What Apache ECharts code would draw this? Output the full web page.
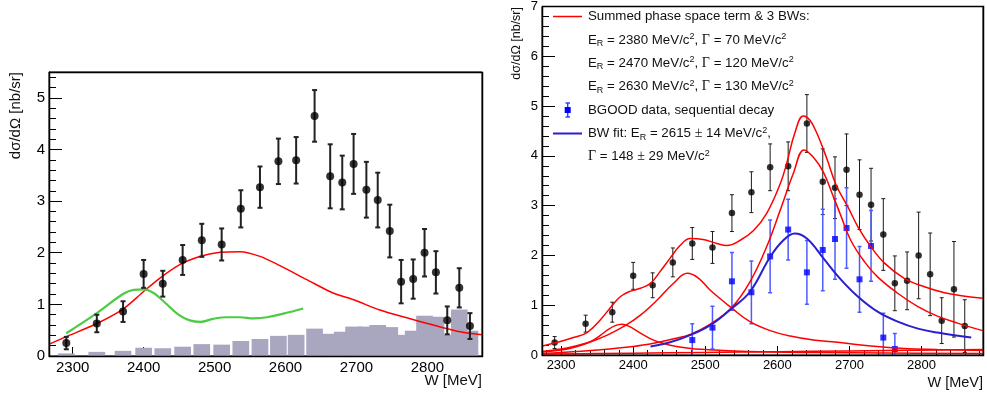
<!DOCTYPE html>
<html>
<head>
<meta charset="utf-8">
<script src="https://cdn.jsdelivr.net/npm/echarts@6/dist/echarts.min.js"></script>
<style>
  html, body { margin: 0; padding: 0; background: #fff; }
  #chart { width: 987px; height: 394px; }
</style>
</head>
<body>
<div id="chart"></div>
<script>
// W [MeV] of the measured points (same bins in both panels)
const W = [2291, 2334, 2371, 2400, 2427, 2455, 2482, 2510, 2537, 2564, 2590, 2615, 2641,
           2663, 2680, 2696, 2714, 2730, 2747, 2763, 2780, 2796, 2812, 2828, 2845, 2860];
// dsigma/dOmega [nb/sr]
const xsec = [0.25, 0.63, 0.86, 1.59, 1.40, 1.86, 2.24, 2.16, 2.85, 3.27, 3.77, 3.79, 4.65,
              3.48, 3.36, 3.72, 3.22, 3.02, 2.42, 1.44, 1.49, 2.00, 1.62, 0.69, 1.32, 0.58];
// statistical errors (left) and total errors (right)
const errStat = [0.12, 0.17, 0.20, 0.27, 0.25, 0.29, 0.32, 0.31, 0.36, 0.40, 0.44, 0.45, 0.50,
                 0.62, 0.52, 0.58, 0.54, 0.53, 0.51, 0.42, 0.38, 0.46, 0.41, 0.27, 0.38, 0.25];
const errTot = [0.12, 0.17, 0.20, 0.27, 0.25, 0.29, 0.32, 0.32, 0.37, 0.41, 0.47, 0.49, 0.58,
                0.66, 0.62, 0.72, 0.70, 0.73, 0.72, 0.55, 0.58, 0.87, 0.83, 0.46, 0.96, 0.53];
// systematic band (histogram) on the left panel
const sysBand = [0.05, 0.08, 0.10, 0.16, 0.15, 0.18, 0.23, 0.22, 0.29, 0.33, 0.39, 0.41, 0.53,
                 0.43, 0.47, 0.57, 0.57, 0.60, 0.56, 0.41, 0.49, 0.78, 0.76, 0.41, 0.90, 0.49];

// sequential decay points (right panel)
const seqW = [2482, 2510, 2537, 2564, 2590, 2615, 2641, 2663, 2680, 2696, 2714, 2730, 2747, 2763];
const seqY = [0.30, 0.55, 1.48, 1.26, 1.98, 2.52, 1.66, 2.11, 2.33, 2.55, 1.52, 2.19, 0.35, 0.12];
const seqErr = [0.33, 0.43, 0.58, 0.63, 0.73, 0.61, 0.64, 0.82, 0.81, 0.81, 0.66, 0.71, 0.49, 0.31];

// left panel model curves [W, value]
const redLeft = [[2267, 0.23], [2291, 0.375], [2334, 0.63], [2371, 0.91], [2400, 1.25], [2423, 1.51],
  [2451, 1.77], [2480, 1.93], [2508, 2.01], [2536, 2.02], [2564, 1.93], [2592, 1.75], [2630, 1.48],
  [2667, 1.22], [2696, 1.09], [2733, 0.89], [2771, 0.74], [2800, 0.63], [2842, 0.48], [2877, 0.41]];
const greenLeft = [[2291, 0.44], [2334, 0.83], [2371, 1.20], [2386, 1.28], [2400, 1.29], [2414, 1.22],
  [2428, 1.06], [2449, 0.80], [2465, 0.69], [2480, 0.66], [2498, 0.72], [2517, 0.75], [2536, 0.75],
  [2555, 0.73], [2574, 0.75], [2597, 0.82], [2625, 0.92]];

// right panel fit curves [W, value]
const sumFit = [[2274, 0.18], [2299, 0.27], [2317, 0.35], [2336, 0.45], [2354, 0.70], [2370, 0.98],
  [2382, 1.17], [2394, 1.27], [2410, 1.34], [2424, 1.44], [2437, 1.67], [2451, 1.94], [2465, 2.20],
  [2479, 2.34], [2497, 2.32], [2516, 2.24], [2530, 2.20], [2548, 2.30], [2567, 2.50], [2585, 2.84],
  [2604, 3.44], [2613, 3.85], [2624, 4.45], [2636, 4.80], [2645, 4.72], [2655, 4.45], [2668, 3.97],
  [2682, 3.40], [2698, 2.97], [2712, 2.57], [2730, 2.17], [2749, 1.84], [2776, 1.54], [2804, 1.37],
  [2832, 1.25], [2860, 1.18], [2885, 1.14]];
const bw3 = [[2274, 0.03], [2300, 0.05], [2350, 0.10], [2400, 0.17], [2430, 0.24], [2455, 0.32],
  [2480, 0.42], [2507, 0.62], [2537, 0.96], [2562, 1.47], [2585, 2.17], [2604, 2.91], [2622, 3.64],
  [2637, 4.12], [2650, 3.97], [2664, 3.67], [2678, 3.17], [2687, 2.84], [2702, 2.30], [2721, 1.87],
  [2739, 1.57], [2767, 1.24], [2795, 0.97], [2822, 0.78], [2850, 0.64], [2885, 0.49]];
const bw2 = [[2274, 0.07], [2300, 0.12], [2317, 0.17], [2340, 0.26], [2364, 0.40], [2390, 0.60],
  [2410, 0.80], [2433, 1.10], [2456, 1.44], [2475, 1.64], [2490, 1.55], [2507, 1.30], [2537, 0.94],
  [2562, 0.67], [2590, 0.49], [2618, 0.38], [2650, 0.30], [2687, 0.25], [2730, 0.18], [2776, 0.13],
  [2822, 0.11], [2885, 0.09]];
const bw1 = [[2274, 0.06], [2300, 0.10], [2317, 0.15], [2340, 0.26], [2355, 0.40], [2364, 0.50],
  [2375, 0.59], [2384, 0.62], [2395, 0.57], [2410, 0.44], [2425, 0.32], [2440, 0.24], [2460, 0.17],
  [2480, 0.13], [2510, 0.10], [2560, 0.07], [2650, 0.05], [2750, 0.04], [2885, 0.03]];
const phaseSpace = [[2274, 0.02], [2350, 0.03], [2450, 0.045], [2550, 0.06], [2650, 0.075],
  [2750, 0.09], [2885, 0.11]];
const bwFit = [[2424, 0.17], [2450, 0.25], [2479, 0.40], [2507, 0.60], [2537, 0.94], [2562, 1.27],
  [2590, 1.97], [2608, 2.30], [2624, 2.44], [2641, 2.34], [2664, 1.94], [2686, 1.55], [2712, 1.17],
  [2739, 0.87], [2767, 0.67], [2795, 0.53], [2822, 0.45], [2869, 0.35]];

const FONT = 'Liberation Sans, Arial, sans-serif';
const xRange = [[2266.6, 2877], [2273.5, 2885.3]];
const yMax = [5.5, 7];
// pad boxes (pixels): left, top, width, height
const pads = [[49, 72, 433, 284], [542, 6, 441, 349]];

function errorBars(color, width, cap) {
  return function (params, api) {
    const x = api.value(0), y = api.value(1), e = api.value(2);
    const hi = api.coord([x, y + e]);
    const lo = api.coord([x, y - e]);
    const st = { stroke: color, lineWidth: width };
    return {
      type: 'group',
      children: [
        { type: 'line', shape: { x1: hi[0], y1: hi[1], x2: lo[0], y2: lo[1] }, style: st },
        { type: 'line', shape: { x1: hi[0] - cap, y1: hi[1], x2: hi[0] + cap, y2: hi[1] }, style: st },
        { type: 'line', shape: { x1: lo[0] - cap, y1: lo[1], x2: lo[0] + cap, y2: lo[1] }, style: st }
      ]
    };
  };
}

function xAxisCfg(idx, fs, minor) {
  return {
    gridIndex: idx, type: 'value', min: xRange[idx][0], max: xRange[idx][1], splitNumber: 6,
    axisLine: { onZero: false, lineStyle: { color: '#000', width: 1 } },
    axisTick: { inside: true, length: 9, lineStyle: { color: '#000' } },
    minorTick: { show: minor, splitNumber: 5, length: 5, lineStyle: { color: '#000' } },
    axisLabel: { showMinLabel: false, showMaxLabel: false, fontSize: fs, color: '#000',
                 fontFamily: FONT, margin: 4, formatter: v => String(v) },
    splitLine: { show: false }
  };
}
function yAxisCfg(idx, split, fs) {
  return {
    gridIndex: idx, type: 'value', min: 0, max: yMax[idx], splitNumber: split,
    axisLine: { onZero: false, lineStyle: { color: '#000', width: 1 } },
    axisTick: { inside: true, length: 13, lineStyle: { color: '#000' } },
    minorTick: { show: true, splitNumber: 5, length: 7, lineStyle: { color: '#000' } },
    axisLabel: { showMaxLabel: idx === 1, fontSize: fs, color: '#000', fontFamily: FONT, margin: 4,
                 formatter: v => String(v) },
    splitLine: { show: false }
  };
}
function padFrame(idx) {
  const p = pads[idx];
  return { type: 'rect', z: 100, silent: true,
           shape: { x: p[0] + 0.5, y: p[1] + 0.5, width: p[2], height: p[3] },
           style: { fill: null, stroke: '#000', lineWidth: 1.5 } };
}

const richStyle = {
  sub: { fontSize: 9, lineHeight: 8, verticalAlign: 'bottom', fontFamily: FONT },
  sup: { fontSize: 9, lineHeight: 8, verticalAlign: 'top', fontFamily: FONT },
  g: { fontSize: 14, fontFamily: 'Liberation Serif, serif' }
};
function legendText(y, text) {
  return {
    type: 'text', x: 588, y: y,
    style: { text: text, fontSize: 13.3, fontFamily: FONT, fill: '#111', lineHeight: 16,
             verticalAlign: 'middle', align: 'left', rich: richStyle }
  };
}

const chart = echarts.init(document.getElementById('chart'));
chart.setOption({
  animation: false,
  backgroundColor: '#fff',
  grid: pads.map(p => ({ left: p[0], top: p[1], width: p[2], height: p[3],
                         show: true, borderColor: '#000', borderWidth: 1, backgroundColor: 'transparent' })),
  xAxis: [xAxisCfg(0, 15, false), xAxisCfg(1, 13, true)],
  yAxis: [yAxisCfg(0, 5, 15), yAxisCfg(1, 7, 13)],
  graphic: [
    padFrame(0),
    padFrame(1),
    { type: 'text', x: 16, y: 72, rotation: Math.PI / 2,
      style: { text: 'dσ/dΩ [nb/sr]', fontSize: 15, fontFamily: FONT, fill: '#111', align: 'right', verticalAlign: 'middle' } },
    { type: 'text', x: 517, y: 7, rotation: Math.PI / 2,
      style: { text: 'dσ/dΩ [nb/sr]', fontSize: 12.5, fontFamily: FONT, fill: '#111', align: 'right', verticalAlign: 'middle' } },
    { type: 'text', x: 482, y: 381,
      style: { text: 'W [MeV]', fontSize: 15, fontFamily: FONT, fill: '#111', align: 'right', verticalAlign: 'middle' } },
    { type: 'text', x: 983, y: 383,
      style: { text: 'W [MeV]', fontSize: 14.5, fontFamily: FONT, fill: '#111', align: 'right', verticalAlign: 'middle' } },
    // legend of the right panel
    { type: 'line', shape: { x1: 553, y1: 16.5, x2: 582, y2: 16.5 }, style: { stroke: '#ff0000', lineWidth: 1.5 } },
    legendText(16.7, 'Summed phase space term & 3 BWs:'),
    legendText(40, 'E{sub|R} = 2380 MeV/c{sup|2}, {g|Γ} = 70 MeV/c{sup|2}'),
    legendText(63.3, 'E{sub|R} = 2470 MeV/c{sup|2}, {g|Γ} = 120 MeV/c{sup|2}'),
    legendText(86.7, 'E{sub|R} = 2630 MeV/c{sup|2}, {g|Γ} = 130 MeV/c{sup|2}'),
    { type: 'line', shape: { x1: 567.7, y1: 103, x2: 567.7, y2: 117 }, style: { stroke: '#3344ff', lineWidth: 1.5 } },
    { type: 'line', shape: { x1: 565.5, y1: 103, x2: 570, y2: 103 }, style: { stroke: '#3344ff', lineWidth: 1.5 } },
    { type: 'line', shape: { x1: 565.5, y1: 117, x2: 570, y2: 117 }, style: { stroke: '#3344ff', lineWidth: 1.5 } },
    { type: 'rect', shape: { x: 564.7, y: 107, width: 6, height: 6 }, style: { fill: '#0000ff' } },
    legendText(110, 'BGOOD data, sequential decay'),
    { type: 'line', shape: { x1: 553, y1: 133.5, x2: 582, y2: 133.5 }, style: { stroke: '#2a1fd0', lineWidth: 2 } },
    legendText(133.7, 'BW fit: E{sub|R} = 2615 {g|±} 14 MeV/c{sup|2},'),
    legendText(156.7, '{g|Γ} = 148 {g|±} 29 MeV/c{sup|2}')
  ],
  series: [
    // ---- left panel ----
    { type: 'bar', xAxisIndex: 0, yAxisIndex: 0, barWidth: 16.7, z: 1,
      itemStyle: { color: '#a9a6c0' },
      data: W.map((w, i) => [w, sysBand[i]]) },
    { type: 'line', xAxisIndex: 0, yAxisIndex: 0, data: redLeft, smooth: 0.3, showSymbol: false,
      lineStyle: { color: '#ff0000', width: 1.5 }, z: 3 },
    { type: 'line', xAxisIndex: 0, yAxisIndex: 0, data: greenLeft, smooth: 0.4, showSymbol: false,
      lineStyle: { color: '#4ccc44', width: 2.2 }, z: 3 },
    { type: 'custom', xAxisIndex: 0, yAxisIndex: 0, clip: true, z: 4,
      renderItem: errorBars('#222', 2, 2.5),
      encode: { x: 0, y: 1 },
      data: W.map((w, i) => [w, xsec[i], errStat[i]]) },
    { type: 'scatter', xAxisIndex: 0, yAxisIndex: 0, symbol: 'circle', symbolSize: 8, z: 5,
      itemStyle: { color: '#000' },
      data: W.map((w, i) => [w, xsec[i]]) },
    // ---- right panel ----
    { type: 'custom', xAxisIndex: 1, yAxisIndex: 1, clip: true, z: 3,
      renderItem: errorBars('#1a1a1a', 1, 2),
      encode: { x: 0, y: 1 },
      data: W.map((w, i) => [w, xsec[i], errTot[i]]) },
    { type: 'scatter', xAxisIndex: 1, yAxisIndex: 1, symbol: 'circle', symbolSize: 6.5, z: 4,
      itemStyle: { color: '#000' },
      data: W.map((w, i) => [w, xsec[i]]) },
    { type: 'custom', xAxisIndex: 1, yAxisIndex: 1, clip: true, z: 3,
      renderItem: errorBars('#4d5cff', 1.5, 2),
      encode: { x: 0, y: 1 },
      data: seqW.map((w, i) => [w, seqY[i], seqErr[i]]) },
    { type: 'scatter', xAxisIndex: 1, yAxisIndex: 1, symbol: 'rect', symbolSize: 6, z: 4,
      itemStyle: { color: '#0000ff' },
      data: seqW.map((w, i) => [w, seqY[i]]) },
    { type: 'line', xAxisIndex: 1, yAxisIndex: 1, data: phaseSpace, smooth: 0.4, showSymbol: false,
      lineStyle: { color: '#ff0000', width: 1.5 }, z: 5 },
    { type: 'line', xAxisIndex: 1, yAxisIndex: 1, data: bw1, smooth: 0.4, showSymbol: false,
      lineStyle: { color: '#ff0000', width: 1.5 }, z: 5 },
    { type: 'line', xAxisIndex: 1, yAxisIndex: 1, data: bw2, smooth: 0.4, showSymbol: false,
      lineStyle: { color: '#ff0000', width: 1.5 }, z: 5 },
    { type: 'line', xAxisIndex: 1, yAxisIndex: 1, data: bw3, smooth: 0.4, showSymbol: false,
      lineStyle: { color: '#ff0000', width: 1.5 }, z: 5 },
    { type: 'line', xAxisIndex: 1, yAxisIndex: 1, data: bwFit, smooth: 0.4, showSymbol: false,
      lineStyle: { color: '#2a1fd0', width: 2 }, z: 5 },
    { type: 'line', xAxisIndex: 1, yAxisIndex: 1, data: sumFit, smooth: 0.4, showSymbol: false,
      lineStyle: { color: '#ff0000', width: 1.5 }, z: 5 }
  ]
});
</script>
</body>
</html>
